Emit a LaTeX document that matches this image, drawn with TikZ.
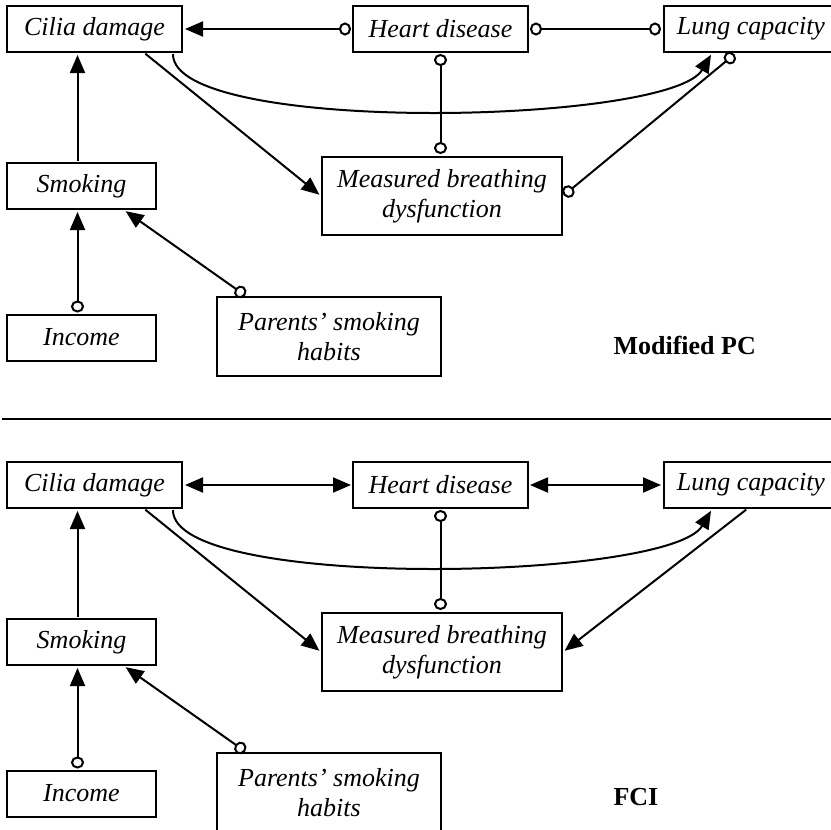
\documentclass[tikz,border=0pt]{standalone}
\usepackage{fontspec}
\setmainfont{Liberation Serif}
\usetikzlibrary{arrows.meta}

\tikzset{
  var/.style={draw, line width=2pt, inner sep=0pt, minimum height=46pt,
    font=\fontsize{26}{30}\selectfont\itshape},
  link/.style={line width=2pt, shorten <=1pt, shorten >=2pt},
  panelname/.style={anchor=west, font=\fontsize{26}{30}\selectfont\bfseries},
  ring/.tip={Circle[open, length=12pt, width=13pt]},
  head/.tip={Triangle[length=18pt, width=15pt]},
}

\begin{document}
\begin{tikzpicture}[x=1pt, y=-1pt]
    \useasboundingbox (0,0) rectangle (831,830);

    % Modified PC
    \node[var, minimum width=175pt] (ciliaA) at (94.5,29) {Cilia damage};
    \node[var, minimum width=175pt] (heartA) at (440.5,29) {Heart disease};
    \node[var, minimum width=174pt] (lungA) at (751,29) {Lung capacity};
    \node[var, minimum width=149pt] (smokeA) at (81.5,186) {Smoking};
    \node[var, minimum width=149pt] (incomeA) at (81.5,337.5) {Income};
    \node[var, minimum width=224pt, minimum height=79pt, align=center] (parentsA) at (329,336.5) {Parents’ smoking\\habits};
    \node[var, minimum width=240pt, minimum height=78pt, align=center] (measuredA) at (442,196) {Measured breathing\\dysfunction};
    \node[panelname] (pcA) at (610,345) {Modified PC};

    \draw[link, ring-head] (heartA.west) -- (ciliaA.east);
    \draw[link, ring-ring] (heartA.east) -- (lungA.west);
    \draw[link, ring-ring] (heartA.south) -- (heartA.south |- measuredA.north);
    \draw[link, -head] ([xshift=50pt]ciliaA.south) -- (measuredA.west);
    \draw[link, -head] ([xshift=-10pt]ciliaA.south east) .. controls (172,135) and (670,125) .. ([xshift=49pt]lungA.south west);
    \draw[link, ring-ring] (measuredA.east) -- ([xshift=73pt]lungA.south west);
    \draw[link, -head] ([xshift=-4pt]smokeA.north) -- ([xshift=-4pt]smokeA.north |- ciliaA.south);
    \draw[link, ring-head] ([xshift=-4pt]incomeA.north) -- ([xshift=-4pt]smokeA.south);
    \draw[link, ring-head] ([xshift=30pt]parentsA.north west) -- ([xshift=-33pt]smokeA.south east);

    \draw[line width=2.5pt] (2,419) -- (831,419);

    % FCI
    \begin{scope}[yshift=-456pt]
    \node[var, minimum width=175pt] (ciliaB) at (94.5,29) {Cilia damage};
    \node[var, minimum width=175pt] (heartB) at (440.5,29) {Heart disease};
    \node[var, minimum width=174pt] (lungB) at (751,29) {Lung capacity};
    \node[var, minimum width=149pt] (smokeB) at (81.5,186) {Smoking};
    \node[var, minimum width=149pt] (incomeB) at (81.5,337.5) {Income};
    \node[var, minimum width=224pt, minimum height=79pt, align=center] (parentsB) at (329,336.5) {Parents’ smoking\\habits};
    \node[var, minimum width=240pt, minimum height=78pt, align=center] (measuredB) at (442,196) {Measured breathing\\dysfunction};
    \node[panelname] (fciB) at (610,341) {FCI};

    \draw[link, head-head] (heartB.west) -- (ciliaB.east);
    \draw[link, head-head] (heartB.east) -- (lungB.west);
    \draw[link, ring-ring] (heartB.south) -- (heartB.south |- measuredB.north);
    \draw[link, -head] ([xshift=50pt]ciliaB.south) -- (measuredB.west);
    \draw[link, -head] ([xshift=-10pt]ciliaB.south east) .. controls (172,135) and (670,125) .. ([xshift=49pt]lungB.south west);
    \draw[link, -head] ([xshift=84pt]lungB.south west) -- (measuredB.east);
    \draw[link, -head] ([xshift=-4pt]smokeB.north) -- ([xshift=-4pt]smokeB.north |- ciliaB.south);
    \draw[link, ring-head] ([xshift=-4pt]incomeB.north) -- ([xshift=-4pt]smokeB.south);
    \draw[link, ring-head] ([xshift=30pt]parentsB.north west) -- ([xshift=-33pt]smokeB.south east);
    \end{scope}
\end{tikzpicture}
\end{document}
